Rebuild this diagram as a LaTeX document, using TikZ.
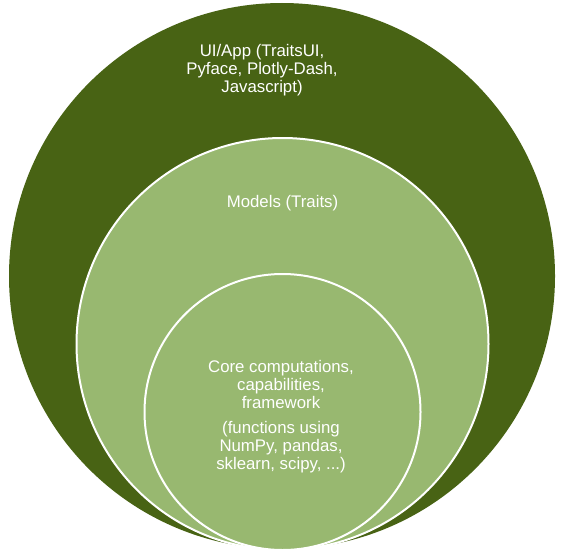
\documentclass[tikz,border=0pt]{standalone}
\usepackage{fontspec}
\setmainfont{Liberation Sans}
\usepackage{tikz}
\usetikzlibrary{positioning}
\definecolor{olivedark}{HTML}{486314}
\definecolor{olivelight}{HTML}{98B870}

\begin{document}
\begin{tikzpicture}[x=1pt,y=-1pt,
    ring/.style={circle,inner sep=0pt,outer sep=0pt},
    caption/.style={text=white,align=center,font=\fontsize{16.8}{18}\selectfont}]
   \useasboundingbox (0,0) rectangle (564,551);
   % the three layers
   \node[ring,fill=olivedark,minimum size=546pt] (app) at (282,276) {};
   \node[ring,fill=olivelight,draw=white,line width=2pt,minimum size=412pt] (models) at (282.5,344) {};
   \node[ring,fill=olivelight,draw=white,line width=2pt,minimum size=276pt] (core) at (282.5,412) {};
   % labels
   \node[caption] (app_txt) at (262,70) {UI/App (TraitsUI,\\Pyface, Plotly-Dash,\\Javascript)};
   \node[caption] (models_txt) at (282.5,203) {Models (Traits)};
   \node[caption] (core_txt) at (281,384) {Core computations,\\capabilities,\\framework};
   \node[caption] (core_sub) [below=6pt of core_txt] {(functions using\\NumPy, pandas,\\sklearn, scipy, ...)};
\end{tikzpicture}
\end{document}
